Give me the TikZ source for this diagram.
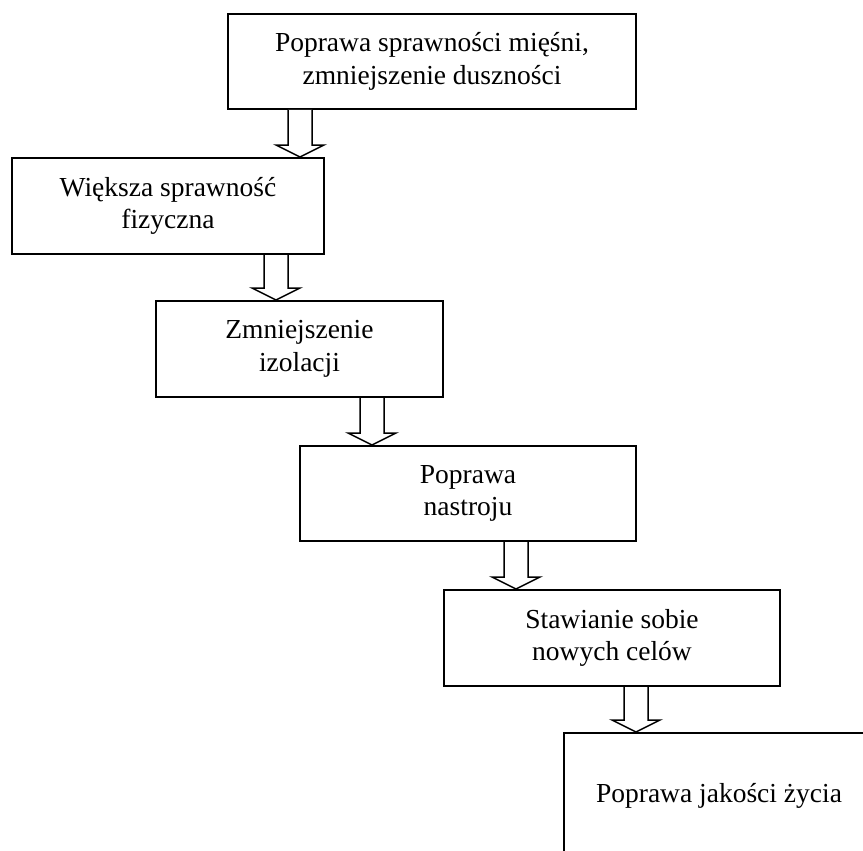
\documentclass[tikz,border=0pt]{standalone}
\usepackage{fontspec}
\setmainfont{Liberation Serif}
\usetikzlibrary{calc}
\tikzset{
  box/.style={draw=black, line width=2pt, fill=white, align=center, inner sep=0pt,
    font=\fontsize{27.5}{32.5}\selectfont},
  arrowline/.style={draw=black, line width=1.5pt, fill=white, line join=miter}
}
\newcommand\blockarrow[3]{%
  \draw[arrowline] let \p1=(#1.south), \p2=(#3.north) in
    (#2pt-12pt,\y1) -- (#2pt-12pt,\y2+12pt) -- (#2pt-24pt,\y2+12pt) -- (#2pt,\y2)
    -- (#2pt+24pt,\y2+12pt) -- (#2pt+12pt,\y2+12pt) -- (#2pt+12pt,\y1);%
}
\begin{document}
\begin{tikzpicture}[x=1pt,y=-1pt]
\clip (0,0) rectangle (863,851);
\fill[white] (0,0) rectangle (863,851);
\node[box, minimum width=408, minimum height=95] (b1) at (432,61.5)
  {Poprawa sprawności mięśni,\\zmniejszenie duszności};
\node[box, minimum width=312, minimum height=96] (b2) at (168,206)
  {Większa sprawność\\fizyczna};
\node[box, minimum width=287, minimum height=96] (b3) at (299.5,349)
  {Zmniejszenie\\izolacji};
\node[box, minimum width=336, minimum height=95] (b4) at (468,493.5)
  {Poprawa\\nastroju};
\node[box, minimum width=336, minimum height=96] (b5) at (612,638)
  {Stawianie sobie\\nowych celów};
\node[box, minimum width=310, minimum height=126] (b6) at (719,796)
  {Poprawa jakości życia};
\blockarrow{b1}{300}{b2}
\blockarrow{b2}{276}{b3}
\blockarrow{b3}{372}{b4}
\blockarrow{b4}{516}{b5}
\blockarrow{b5}{636}{b6}
\end{tikzpicture}
\end{document}
